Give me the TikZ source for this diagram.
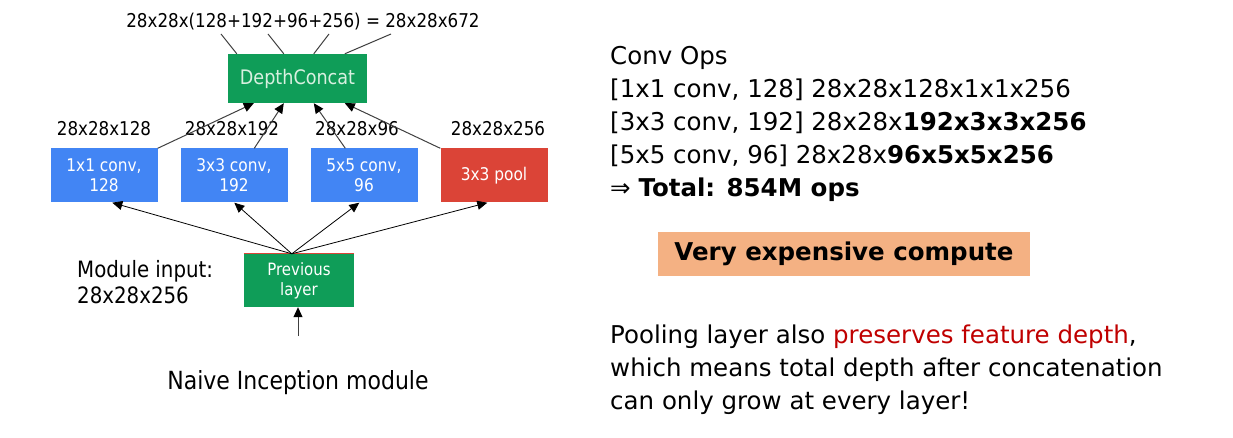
\documentclass[tikz,border=0pt]{standalone}
\usepackage{fontspec}
\setmainfont[FakeStretch=0.88]{DejaVu Sans}
\newfontfamily\rightfont{DejaVu Sans}
\usetikzlibrary{arrows.meta,calc}
\definecolor{gblue}{HTML}{4285F4}
\definecolor{gred}{HTML}{DB4437}
\definecolor{ggreen}{HTML}{0F9D58}
\definecolor{orangebox}{HTML}{F4B183}
\definecolor{darkred}{HTML}{C00000}
\definecolor{linegray}{HTML}{404040}
\definecolor{paletext}{HTML}{D8F0E0}
\tikzset{
  fs/.style={font=\fontsize{#1}{#1}\selectfont},
  rs/.style={font=\rightfont\fontsize{24.5}{24.5}\selectfont},
  layerbox/.style={minimum width=107pt, minimum height=54pt, inner sep=0pt, align=center, text=white, font=\fontsize{17.5}{20}\selectfont},
  plain/.style={inner sep=0pt, text=black},
  tip/.style={-{Triangle[length=10pt,width=9pt,color=black]}},
  uparrow/.style={tip, draw=black, line width=0.8pt},
  grayarrow/.style={tip, draw=linegray, line width=1pt},
  grayline/.style={draw=linegray, line width=1pt},
}
\begin{document}
\begin{tikzpicture}[x=1pt,y=-1pt]
\useasboundingbox[fill=white] (0,0) rectangle (1233,438);

% top label
\node[plain, fs=19, anchor=base] (top) at (303,28) {28x28x(128+192+96+256) = 28x28x672};
\coordinate (t1) at (221,34);
\coordinate (t2) at (268,34);
\coordinate (t3) at (329,34);
\coordinate (t4) at (391,34);

% depth concat
\node[fill=ggreen, minimum width=139pt, minimum height=49pt, inner sep=0pt, text=paletext, fs=20] (dc) at (297.5,78.5) {DepthConcat};

% branch boxes
\node[layerbox, fill=gblue] (c1) at (104,175.5) {1x1 conv,\\128};
\node[layerbox, fill=gblue] (c3) at (234,175.5) {3x3 conv,\\192};
\node[layerbox, fill=gblue] (c5) at (364,175.5) {5x5 conv,\\96};
\node[layerbox, fill=gred] (pl) at (494,175.5) {3x3 pool};

% labels above boxes
\node[plain, fs=19, anchor=base] (lb1) at (104,136) {28x28x128};
\node[plain, fs=19, anchor=base] (lb3) at (232,136) {28x28x192};
\node[plain, fs=19, anchor=base] (lb5) at (357,136) {28x28x96};
\node[plain, fs=19, anchor=base] (lbp) at (498,136) {28x28x256};

% previous layer
\node[fill=ggreen, minimum width=110pt, minimum height=53pt, inner sep=0pt, align=center, text=white, font=\fontsize{17}{20}\selectfont] (prev) at (299,280.5) {Previous\\layer};
\draw[gred, line width=1pt] (prev.north west) -- (prev.north east);
\coordinate (src) at ([xshift=48pt]prev.north west);
\coordinate (inp) at (298,336);

% lines from top label into depth concat
\draw[grayline] (t1) -- ([xshift=9pt]dc.north west);
\draw[grayline] (t2) -- ([xshift=56pt]dc.north west);
\draw[grayline] (t3) -- ([xshift=86pt]dc.north west);
\draw[grayline] (t4) -- ([xshift=117pt]dc.north west);

% arrows from branches into depth concat
\draw[grayarrow] (c1.north east) -- ([xshift=26pt]dc.south west);
\draw[grayarrow] ([xshift=74pt]c3.north west) -- ([xshift=56pt]dc.south west);
\draw[grayarrow] ([xshift=35pt]c5.north west) -- ([xshift=86pt]dc.south west);
\draw[grayarrow] (pl.north west) -- ([xshift=117pt]dc.south west);

% arrows from previous layer to branches
\draw[uparrow] (src) -- ([xshift=62pt]c1.south west);
\draw[uparrow] (src) -- ([xshift=54pt]c3.south west);
\draw[uparrow] (src) -- ([xshift=49pt]c5.south west);
\draw[uparrow] (src) -- ([xshift=47pt]pl.south west);

% input arrow
\draw[grayarrow] (inp) -- (prev.south -| inp);

% module input text
\node[plain, fs=22.5, anchor=base west] (mi1) at (77,277) {Module input:};
\node[plain, fs=22.5, anchor=base west] (mi2) at (77,303) {28x28x256};

% caption
\node[plain, fs=25, anchor=base] (cap) at (298,389) {Naive Inception module};

% right side
\node[plain, rs, anchor=base west] (r0) at (610,65) {Conv Ops};
\node[plain, rs, anchor=base west] (r1) at (610,98) {[1x1 conv, 128] 28x28x128x1x1x256};
\node[plain, rs, anchor=base west] (r2) at (610,131) {[3x3 conv, 192] 28x28x\textbf{192x3x3x256}};
\node[plain, rs, anchor=base west] (r3) at (610,164) {[5x5 conv, 96] 28x28x\textbf{96x5x5x256}};
\node[plain, rs, anchor=base west] (r4) at (610,197) {⇒ \textbf{Total: 854M ops}};

\node[fill=orangebox, minimum width=372pt, minimum height=43pt, inner sep=0pt, font=\rightfont\fontsize{24.5}{24.5}\selectfont\bfseries] (vec) at (844,254) {Very expensive compute};

\node[plain, rs, anchor=base west] (p1) at (610,343) {Pooling layer also \textcolor{darkred}{preserves feature depth},};
\node[plain, rs, anchor=base west] (p2) at (610,376) {which means total depth after concatenation};
\node[plain, rs, anchor=base west] (p3) at (610,409) {can only grow at every layer!};
\end{tikzpicture}
\end{document}
